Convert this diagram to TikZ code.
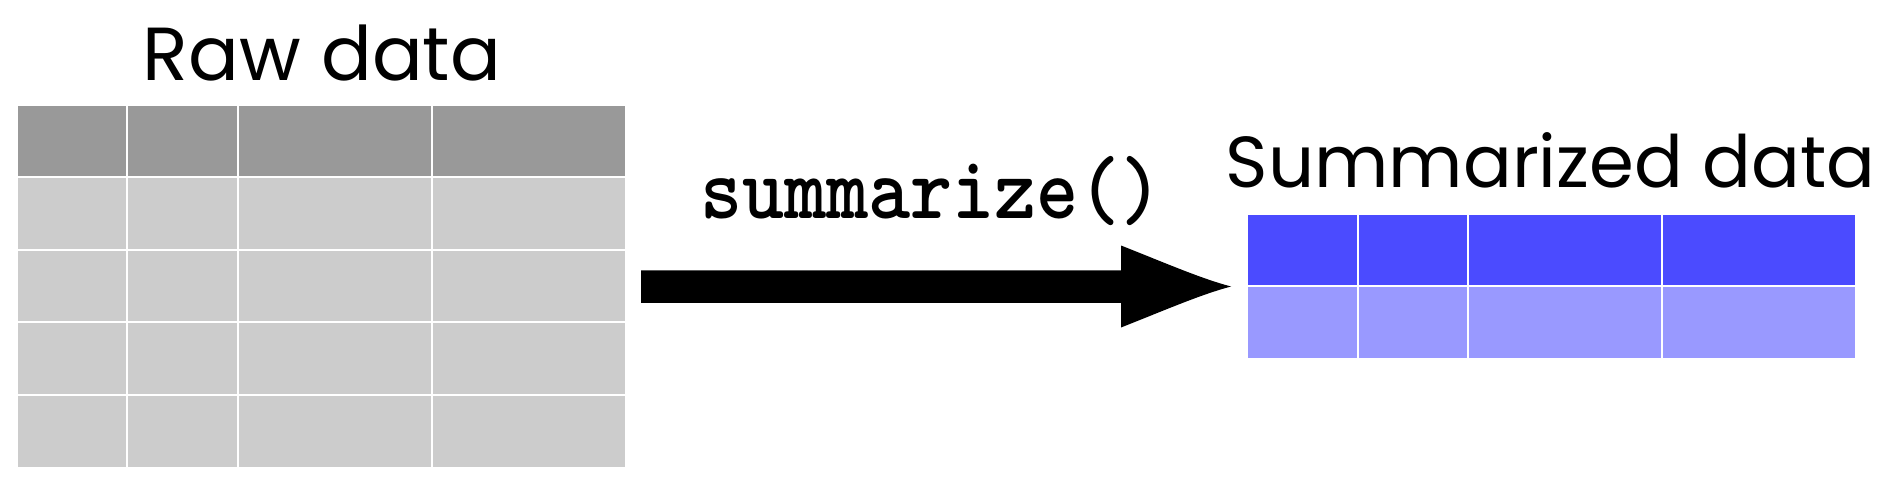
\documentclass[tikz,border=0pt]{standalone}
\usepackage{fontspec}
\usetikzlibrary{calc}
\newfontfamily\handfont{Poppins}
\definecolor{hdrgray}{HTML}{999999}
\definecolor{bodygray}{HTML}{CCCCCC}
\definecolor{hdrblue}{HTML}{4B4BFF}
\definecolor{bodyblue}{HTML}{9999FF}
\begin{document}
\begin{tikzpicture}[x=1pt,y=-1pt,
  gridline/.style={white,line width=2.2pt},
  tablebox/.style={inner sep=0pt,outer sep=0pt,anchor=north west,minimum width=607pt},
  titletext/.style={anchor=base,inner sep=0pt}]
\useasboundingbox (0,0) rectangle (1891,484);
% raw data table
\node[tablebox,minimum height=361pt] (raw) at (18,106) {};
\fill[hdrgray] (18,106) rectangle (625,177);
\fill[bodygray] (18,177) rectangle (625,467);
\foreach \x in {127,238,432} \draw[gridline] (\x,106) -- (\x,467);
\foreach \y in {177,250,322,395} \draw[gridline] (18,\y) -- (625,\y);
% summarized table
\node[tablebox,minimum height=143pt] (sum) at (1248,215) {};
\fill[hdrblue] (1248,215) rectangle (1855,286);
\fill[bodyblue] (1248,286) rectangle (1855,358);
\foreach \x in {1358,1468,1662} \draw[gridline] (\x,215) -- (\x,358);
\draw[gridline] (1248,286) -- (1855,286);
% titles
\node[titletext] (rawtitle) at (322,81) {\resizebox{358pt}{!}{\handfont Raw data}};
\node[titletext] (sumtitle) at (1550.5,188) {\resizebox{649pt}{!}{\handfont Summarized data}};
\node[titletext] (fn) at (931.5,218) {\resizebox{463pt}{!}{\scalebox{1}[1.12]{\ttfamily\bfseries summarize()}}};
% arrow
\coordinate (tail) at ([xshift=16pt]raw.east);
\coordinate (tip) at ([xshift=-17pt]sum.west);
\fill ($(tail)+(0,-16.25)$) -- ($(tip)+(-110,-16.25)$) -- ($(tip)+(-110,-41)$)
  .. controls ($(tip)+(-62,-22)$) and ($(tip)+(-30,-8)$) .. (tip)
  .. controls ($(tip)+(-30,8)$) and ($(tip)+(-62,22)$) .. ($(tip)+(-110,41)$)
  -- ($(tip)+(-110,16.25)$) -- ($(tail)+(0,16.25)$) -- cycle;
\end{tikzpicture}
\end{document}
